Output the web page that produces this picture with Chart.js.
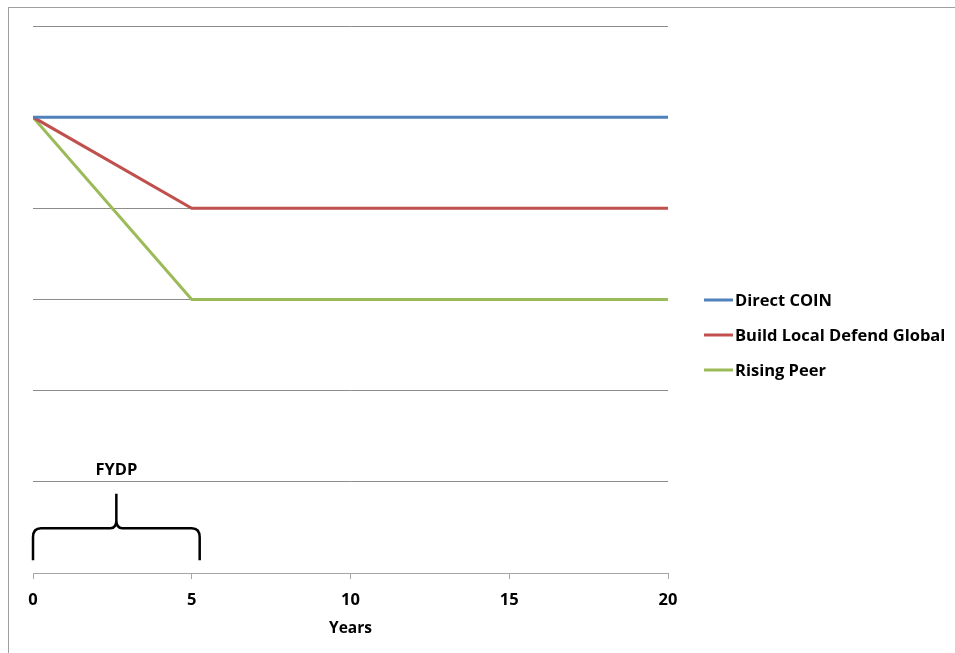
<!DOCTYPE html>
<html><head><meta charset="utf-8">
<script src="https://cdn.jsdelivr.net/npm/chart.js@4.4.0/dist/chart.umd.min.js"></script>
<style>html,body{margin:0;padding:0;background:#fff}#wrap{width:955px;height:653px;position:relative}</style>
</head><body><div id="wrap"><canvas id="c" width="955" height="653"></canvas></div>
<script>
const years = [0, 5, 10, 15, 20];
const directCoin = [5, 5, 5, 5, 5];
const buildLocal = [5, 4, 4, 4, 4];
const risingPeer = [5, 3, 3, 3, 3];
const seriesNames = ['Direct COIN', 'Build Local Defend Global', 'Rising Peer'];
const seriesColors = ['#4F81BD', '#C0504D', '#9BBB59'];
const xTicks = [0, 5, 10, 15, 20];
const braceLabel = 'FYDP';
const braceRange = [0, 5.25];

const FONT = '"Open Sans", "Liberation Sans", sans-serif';

const frame = {
  id: 'frame',
  beforeDraw(chart) {
    const ctx = chart.ctx;
    ctx.save();
    ctx.fillStyle = '#fff';
    ctx.fillRect(0, 0, chart.width, chart.height);
    ctx.strokeStyle = '#a0a0a0';
    ctx.lineWidth = 1;
    ctx.strokeRect(8.5, 7.5, 2000, 2000);
    ctx.restore();
  }
};

const extras = {
  id: 'extras',
  afterDraw(chart) {
    const ctx = chart.ctx;
    const xs = chart.scales.x, ys = chart.scales.y;
    ctx.save();
    // brace
    const x0 = xs.getPixelForValue(braceRange[0]);
    const x1 = xs.getPixelForValue(braceRange[1]);
    const xm = (x0 + x1) / 2;
    const yb = ys.getPixelForValue(0.14);
    const yh = ys.getPixelForValue(0.49);
    const yp = ys.getPixelForValue(0.87);
    ctx.strokeStyle = '#000';
    ctx.lineWidth = 2.5;
    ctx.lineJoin = 'round';
    ctx.beginPath();
    ctx.moveTo(x0, yb);
    ctx.lineTo(x0, yh + 9);
    ctx.quadraticCurveTo(x0, yh, x0 + 8, yh);
    ctx.lineTo(xm - 6, yh);
    ctx.quadraticCurveTo(xm, yh, xm, yh - 8);
    ctx.lineTo(xm, yp);
    ctx.moveTo(xm, yh - 8);
    ctx.quadraticCurveTo(xm, yh, xm + 6, yh);
    ctx.lineTo(x1 - 8, yh);
    ctx.quadraticCurveTo(x1, yh, x1, yh + 9);
    ctx.lineTo(x1, yb);
    ctx.stroke();
    ctx.fillStyle = '#000';
    ctx.font = 'bold 16.5px ' + FONT;
    ctx.textAlign = 'center';
    ctx.textBaseline = 'middle';
    ctx.fillText(braceLabel, xm, ys.getPixelForValue(1.13));
    // legend
    const lx = 704, tx = 735;
    const lys = [300, 335, 370];
    ctx.textAlign = 'left';
    ctx.font = 'bold 16.5px ' + FONT;
    chart.data.datasets.forEach((ds, i) => {
      ctx.strokeStyle = ds.borderColor;
      ctx.lineWidth = 3;
      ctx.beginPath();
      ctx.moveTo(lx, lys[i]);
      ctx.lineTo(lx + 29, lys[i]);
      ctx.stroke();
      ctx.fillStyle = '#000';
      ctx.fillText(ds.label, tx, lys[i] + 1);
    });
    ctx.restore();
  }
};

const mk = (vals) => years.map((x, i) => ({x, y: vals[i]}));

new Chart(document.getElementById('c'), {
  type: 'line',
  data: {
    datasets: [directCoin, buildLocal, risingPeer].map((v, i) => ({
      label: seriesNames[i],
      data: mk(v),
      borderColor: seriesColors[i],
      backgroundColor: seriesColors[i],
      borderWidth: 3,
      pointRadius: 0,
      tension: 0
    }))
  },
  options: {
    responsive: false,
    animation: false,
    layout: {padding: {left: 33, right: 287, top: 26, bottom: 0}},
    plugins: {legend: {display: false}, tooltip: {enabled: false}},
    scales: {
      x: {
        type: 'linear', min: 0, max: 20,
        afterBuildTicks: (s) => { s.ticks = xTicks.map(v => ({value: v})); },
        afterFit: (s) => { s.height = 80; },
        grid: {drawOnChartArea: false, drawTicks: true, tickLength: 6, color: '#a6a6a6'},
        border: {color: '#a6a6a6', width: 1},
        ticks: {color: '#000', font: {family: FONT, size: 16.5, weight: 'bold'}, padding: 11, maxRotation: 0},
        title: {display: true, text: 'Years', color: '#000', font: {family: FONT, size: 15.5, weight: 'bold'}, padding: {top: 2, bottom: 15}}
      },
      y: {
        min: 0, max: 6,
        ticks: {display: false, stepSize: 1},
        afterFit: (s) => { s.width = 0; },
        border: {display: false},
        grid: {drawTicks: false, color: (c) => c.tick && c.tick.value === 0 ? 'rgba(0,0,0,0)' : '#8c8c8c', lineWidth: 1}
      }
    }
  },
  plugins: [frame, extras]
});
</script></body></html>
